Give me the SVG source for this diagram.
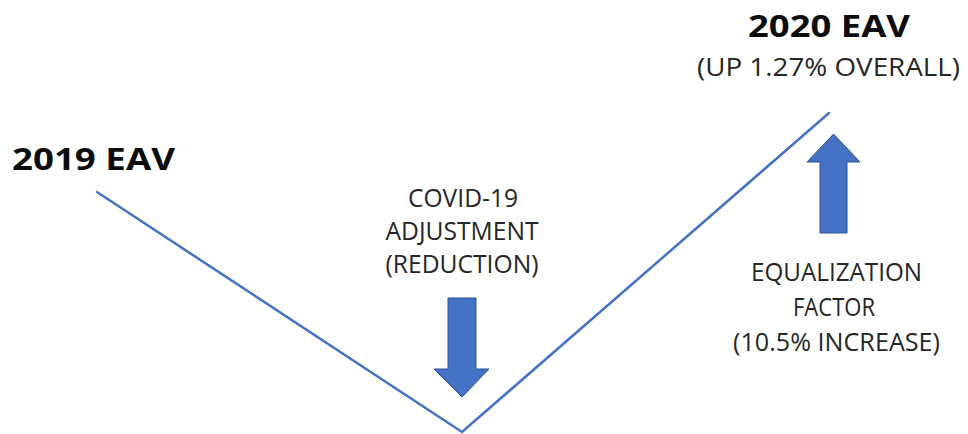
<svg xmlns="http://www.w3.org/2000/svg" width="968" height="434" viewBox="0 0 968 434">
<style>
.bold{font-family:"Open Sans","Liberation Sans",sans-serif;font-weight:700;font-size:31px;fill:#0d0d0d}
.lbl{font-family:"Open Sans","Liberation Sans",sans-serif;font-size:26px;fill:#262626;text-anchor:middle}
.arrow{fill:#4472C4;stroke:#2F528F;stroke-width:1}
.trend{fill:none;stroke:#4472C4;stroke-width:2.5;stroke-linecap:round;stroke-linejoin:miter}
</style>
<rect width="968" height="434" fill="#ffffff"/>
<g id="connectors">
<polyline class="trend" points="97,192 462,432 829,113"/>
</g>
<g id="eav2019">
<text class="bold" x="12" y="170" textLength="163" lengthAdjust="spacingAndGlyphs">2019 EAV</text>
</g>
<g id="eav2020">
<text class="bold" x="748" y="37" textLength="162" lengthAdjust="spacingAndGlyphs">2020 EAV</text>
<text class="lbl" x="828.5" y="76" textLength="263" lengthAdjust="spacingAndGlyphs">(UP 1.27% OVERALL)</text>
</g>
<g id="covid">
<text class="lbl" x="463" y="207" textLength="110" lengthAdjust="spacingAndGlyphs">COVID-19</text>
<text class="lbl" x="462" y="240" textLength="153" lengthAdjust="spacingAndGlyphs">ADJUSTMENT</text>
<text class="lbl" x="462" y="273" textLength="153" lengthAdjust="spacingAndGlyphs">(REDUCTION)</text>
<polygon class="arrow" points="448,298 476,298 476,369 489,369 462,397 434,369 448,369"/>
</g>
<g id="equalization">
<text class="lbl" x="836.5" y="281" textLength="171" lengthAdjust="spacingAndGlyphs">EQUALIZATION</text>
<text class="lbl" x="834" y="316" textLength="82" lengthAdjust="spacingAndGlyphs">FACTOR</text>
<text class="lbl" x="836.5" y="351" textLength="207" lengthAdjust="spacingAndGlyphs">(10.5% INCREASE)</text>
<polygon class="arrow" points="833.5,134 860,162 847,162 847,233 820,233 820,162 807,162"/>
</g>
</svg>
